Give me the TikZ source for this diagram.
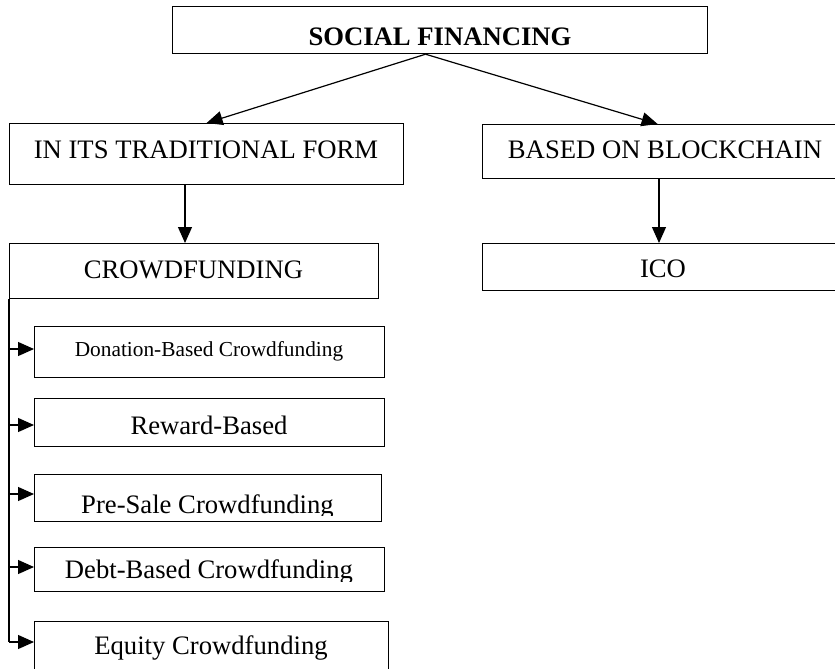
\documentclass[tikz,border=0pt]{standalone}
\usepackage{fontspec}
\setmainfont{Liberation Serif}
\usetikzlibrary{arrows.meta}
\begin{document}
\begin{tikzpicture}[x=0.75pt,y=-0.75pt,
  box/.style n args={2}{draw, line width=0.9pt, inner sep=0pt, anchor=north west,
    minimum width=#1*0.75pt, minimum height=#2*0.75pt},
  txt/.style={anchor=base, inner sep=0pt, font=\fontsize{20}{24}\selectfont},
  smalltxt/.style={anchor=base, inner sep=0pt, font=\fontsize{16}{19}\selectfont},
  ln/.style={line width=0.9pt},
  arr/.style={line width=0.9pt, -{Triangle[length=12pt,width=10.5pt]}}]
\useasboundingbox (0,0) rectangle (835,668);
\clip (0,0) rectangle (835,668);

% boxes
\node[box={535}{47}] (sf) at (172,6) {};
\node[box={394}{61}] (tr) at (9,123) {};
\node[box={368}{54}] (bb) at (482,124) {};
\node[box={369}{55}] (cf) at (9,243) {};
\node[box={368}{47}] (ico) at (482,243) {};
\node[box={350}{51}] (don) at (34,326) {};
\node[box={350}{48}] (rew) at (34,398) {};
\node[box={347}{47}] (pre) at (34,474) {};
\node[box={350}{44}] (debt) at (34,547) {};
\node[box={354}{51}] (eq) at (34,621) {};

% texts
\node[txt, font=\fontsize{20}{24}\selectfont\bfseries] (sft) at (440,45) {SOCIAL FINANCING};
\node[txt] (trt) at (206,158) {IN ITS TRADITIONAL FORM};
\node[txt] (bbt) at (665,158) {BASED ON BLOCKCHAIN};
\node[txt] (cft) at (193.5,278) {CROWDFUNDING};
\node[txt] (icot) at (663,277) {ICO};
\node[smalltxt] (dont) at (209,356) {Donation-Based Crowdfunding};
\node[txt] (rewt) at (209,434) {Reward-Based};
\begin{scope}
  \clip (34,474) rectangle (381,515);
  \node[txt] (pret) at (207.5,513) {Pre-Sale Crowdfunding};
\end{scope}
\begin{scope}
  \clip (34,547) rectangle (384,581);
  \node[txt] (debtt) at (209,578) {Debt-Based Crowdfunding};
\end{scope}
\node[txt] (eqt) at (211,654) {Equity Crowdfunding};

% connectors
\draw[arr] ([xshift=-10.9pt]sf.south) -- (tr.north);
\draw[arr] ([xshift=-10.9pt]sf.south) -- ([xshift=-6.75pt]bb.north);
\coordinate (c1) at (185,0);
\coordinate (c2) at (659,0);
\draw[arr] (tr.south -| c1) -- (cf.north -| c1);
\draw[arr] (bb.south -| c2) -- (ico.north -| c2);

\coordinate (r1) at (9,349);
\coordinate (r2) at (9,425);
\coordinate (r3) at (9,494);
\coordinate (r4) at (9,567);
\coordinate (r5) at (9,642);
\draw[ln] (cf.south west) -- (r5);
\draw[arr] (r1) -- (r1 -| don.west);
\draw[arr] (r2) -- (r2 -| rew.west);
\draw[arr] (r3) -- (r3 -| pre.west);
\draw[arr] (r4) -- (r4 -| debt.west);
\draw[arr] (r5) -- (r5 -| eq.west);
\end{tikzpicture}
\end{document}
